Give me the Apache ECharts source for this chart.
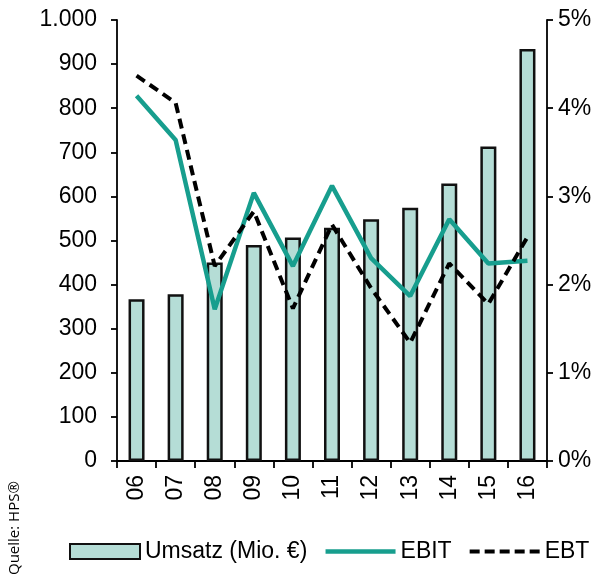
<!DOCTYPE html>
<html>
<head>
<meta charset="utf-8">
<script src="https://cdn.jsdelivr.net/npm/echarts@6/dist/echarts.min.js"></script>
<style>html,body{margin:0;padding:0;background:#fff}#c{width:613px;height:576px}</style>
</head>
<body>
<div id="c"></div>
<script>
var categories = ['06','07','08','09','10','11','12','13','14','15','16'];
var umsatz = [367, 378, 450, 490, 507, 529, 548, 574, 629, 713, 934];
var ebit = [4.14, 3.64, 1.72, 3.04, 2.21, 3.12, 2.30, 1.87, 2.74, 2.24, 2.27];
var ebt = [4.37, 4.06, 2.21, 2.83, 1.73, 2.68, 1.96, 1.34, 2.24, 1.78, 2.54];
var seriesNames = ['Umsatz (Mio. €)', 'EBIT', 'EBT'];
var sourceText = 'Quelle: HPS®';

var FONT = '"Liberation Sans", Arial, sans-serif';
var FS = 23;
var chart = echarts.init(document.getElementById('c'), null, {renderer: 'canvas'});
var axisLine = {show: true, lineStyle: {color: '#000', width: 1.8}};
chart.setOption({
  animation: false,
  grid: {left: 117, right: 66, top: 20, bottom: 115, containLabel: false},
  legend: {
    left: 64, top: 535,
    itemWidth: 70, itemHeight: 15, itemGap: 16,
    textStyle: {fontFamily: FONT, fontSize: FS, color: '#000'},
    data: [
      {name: seriesNames[0], icon: 'rect'},
      {name: seriesNames[1], itemStyle: {opacity: 0}, lineStyle: {width: 4.5, color: '#179e8e'}},
      {name: seriesNames[2], itemStyle: {opacity: 0}, lineStyle: {width: 4, color: '#000', type: [10, 5]}}
    ]
  },
  xAxis: {
    type: 'category', data: categories,
    axisLine: axisLine,
    axisTick: {show: true, inside: false, length: 7, alignWithLabel: false, lineStyle: {color: '#000', width: 1.8}},
    axisLabel: {rotate: 90, margin: 14, fontFamily: FONT, fontSize: FS, color: '#000'}
  },
  yAxis: [
    {
      type: 'value', min: 0, max: 1000, interval: 100,
      axisLine: axisLine,
      axisTick: {show: true, length: 6, lineStyle: {color: '#000', width: 1.8}},
      splitLine: {show: false},
      axisLabel: {margin: 20, fontFamily: FONT, fontSize: FS, color: '#000',
        formatter: function (v) { return v >= 1000 ? (Math.floor(v/1000) + '.' + String(v%1000).padStart(3,'0')) : String(v); }}
    },
    {
      type: 'value', min: 0, max: 5, interval: 1, position: 'right',
      axisLine: axisLine,
      axisTick: {show: true, length: 6, lineStyle: {color: '#000', width: 1.8}},
      splitLine: {show: false},
      axisLabel: {margin: 11, fontFamily: FONT, fontSize: FS, color: '#000', formatter: '{value}%'}
    }
  ],
  series: [
    {
      name: seriesNames[0], type: 'bar', yAxisIndex: 0, data: umsatz, barWidth: 16,
      itemStyle: {color: '#b5ddd6', borderColor: '#111', borderWidth: 2.5}
    },
    {
      name: seriesNames[1], type: 'line', yAxisIndex: 1, data: ebit,
      symbol: 'none', lineStyle: {color: '#179e8e', width: 4.5}, itemStyle: {color: '#179e8e'}
    },
    {
      name: seriesNames[2], type: 'line', yAxisIndex: 1, data: ebt,
      symbol: 'none', lineStyle: {color: '#000', width: 4, type: [10, 6]}, itemStyle: {color: '#000'}
    }
  ],
  graphic: [{
    type: 'text', x: 7, y: 575, rotation: Math.PI / 2,
    style: {text: sourceText, fontFamily: '"Open Sans", "Noto Sans", sans-serif', fontSize: 15, fill: '#000', textVerticalAlign: 'top'}
  }]
});
</script>
</body>
</html>
